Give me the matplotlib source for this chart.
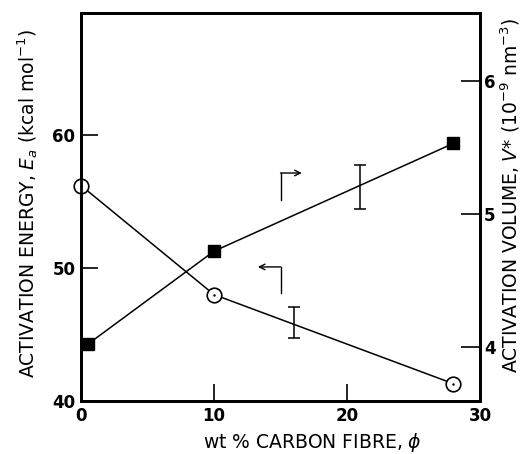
import matplotlib
matplotlib.use("Agg")
import matplotlib.pyplot as plt

# Activation energy (left axis) and activation volume (right axis)
# against carbon fibre content
phi_energy = [0, 10, 28]
energy = [56.2, 48.0, 41.3]

phi_volume = [0.5, 10, 28]
volume = [4.02, 4.72, 5.53]

# Representative error bars
err_energy_phi = [16]
err_energy_mid = [45.9]
err_energy_half = [1.17]

err_volume_phi = [21]
err_volume_mid = [5.205]
err_volume_half = [0.165]

x_ticks = [0, 10, 20, 30]
left_ticks = [40, 50, 60]
right_ticks = [4, 5, 6]

label_font = "DejaVu Sans"
label_size = 13.5

fig = plt.figure(figsize=(5.22, 4.54), dpi=100)
ax = fig.add_axes([81 / 522, 1 - 401 / 454, 399 / 522, 388 / 454])
ax2 = ax.twinx()

ax.set_xlim(0, 30)
ax.set_ylim(40, 69.17)
ax2.set_ylim(3.594, 6.51)

lw = 1.1
ax.plot(phi_energy, energy, color="black", lw=lw, marker="o", ms=10.5,
        mfc="white", mec="black", mew=1.2, zorder=3, clip_on=False)
ax.plot(phi_energy, energy, ls="none", marker=".", ms=1.5, color="black",
        zorder=4, clip_on=False)
ax2.plot(phi_volume, volume, color="black", lw=lw, marker="s", ms=8,
         mfc="black", mec="black", zorder=3, clip_on=False)

ax.errorbar(err_energy_phi, err_energy_mid, yerr=err_energy_half, fmt="none",
            ecolor="black", elinewidth=1.1, capsize=4.5, capthick=1.1)
ax2.errorbar(err_volume_phi, err_volume_mid, yerr=err_volume_half, fmt="none",
             ecolor="black", elinewidth=1.1, capsize=4.5, capthick=1.1)

# Bent arrows pointing each curve to its axis
ax.annotate("", xy=(16.6, 57.14), xytext=(15.0, 57.14),
            arrowprops=dict(arrowstyle="->", lw=1.0, color="black",
                            shrinkA=0, shrinkB=0))
ax.plot([15.0, 15.0], [57.14, 55.1], color="black", lw=1.0)
ax.annotate("", xy=(13.3, 50.08), xytext=(15.0, 50.08),
            arrowprops=dict(arrowstyle="->", lw=1.0, color="black",
                            shrinkA=0, shrinkB=0))
ax.plot([15.0, 15.0], [50.08, 48.1], color="black", lw=1.0)

for a in (ax, ax2):
    for s in a.spines.values():
        s.set_linewidth(2.0)

ax.set_xticks(x_ticks)
ax.set_yticks(left_ticks)
ax2.set_yticks(right_ticks)
ax.tick_params(axis="both", direction="in", length=12, width=1.2, pad=4,
               labelsize=12, top=False, right=False)
ax2.tick_params(axis="y", direction="in", length=14, width=1.2, pad=3,
                labelsize=12)
for lab in ax.get_xticklabels() + ax.get_yticklabels() + ax2.get_yticklabels():
    lab.set_fontweight("bold")
    lab.set_family("DejaVu Sans")

ax.set_xlabel(r"wt % CARBON FIBRE, $\phi$", fontsize=label_size,
              family=label_font, va="center")
ax.xaxis.set_label_coords(0.579, -0.108)
ax.set_ylabel(r"ACTIVATION ENERGY, $E_a$ (kcal mol$^{-1}$)",
              fontsize=label_size, family=label_font, va="center")
ax.yaxis.set_label_coords(-0.135, 0.51)
ax2.set_ylabel(r"ACTIVATION VOLUME, $V$* (10$^{-9}$ nm$^{-3}$)",
               fontsize=label_size, family=label_font, rotation=90,
               va="center")
ax2.yaxis.set_label_coords(1.075, 0.53)

fig.savefig("out.png", dpi=100)
